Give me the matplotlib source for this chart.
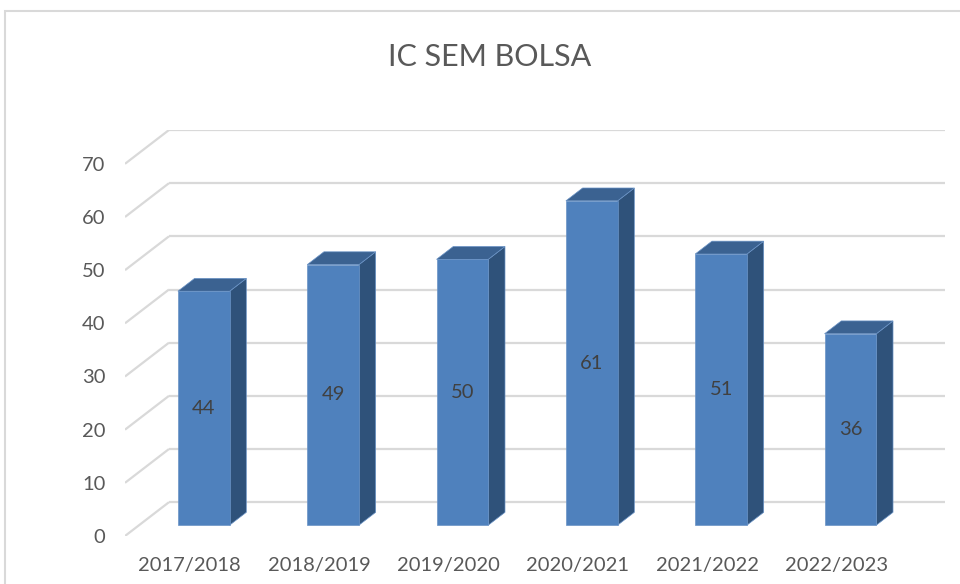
import matplotlib.pyplot as plt
from matplotlib.patches import Polygon, Rectangle

plt.rcParams['font.family'] = ['Lato', 'DejaVu Sans']

anos = ['2017/2018', '2018/2019', '2019/2020', '2020/2021', '2021/2022', '2022/2023']
valores = [44, 49, 50, 61, 51, 36]
yticks = [0, 10, 20, 30, 40, 50, 60, 70]

# "3D" look: depth shift in data units (category units, value units)
DX = 0.34
DY = 6.36
largura = 0.40
d0, d1 = 0.32, 0.70

frente = '#4F81BD'
topo = '#3B6291'
lado = '#2F527A'
grade = '#D9D9D9'
texto = '#595959'


def proj(x, v, d):
    return (x + d * DX, v + d * DY)


fig = plt.figure(figsize=(9.6, 5.84), dpi=100)
ax = fig.add_axes([125 / 960, 48 / 584, 820 / 960, 406 / 584])
ax.set_xlim(-0.5, 5.5 + DX)
ax.set_ylim(0, 70 + DY)

# grade: parede do fundo + linhas diagonais do lado esquerdo
xmin, xmax = -0.5, len(anos) - 0.5
for v in yticks:
    ax.plot(*zip(proj(xmin, v, 0), proj(xmin, v, 1)), color=grade, lw=1.6, zorder=1,
            solid_capstyle='butt')
    ax.plot(*zip(proj(xmin, v, 1), proj(xmax, v, 1)), color=grade, lw=1.6, zorder=1,
            solid_capstyle='butt')

for i, v in enumerate(valores):
    x0, x1 = i - largura / 2, i + largura / 2
    face = [proj(x0, 0, d0), proj(x1, 0, d0), proj(x1, v, d0), proj(x0, v, d0)]
    top = [proj(x0, v, d0), proj(x1, v, d0), proj(x1, v, d1), proj(x0, v, d1)]
    side = [proj(x1, 0, d0), proj(x1, 0, d1), proj(x1, v, d1), proj(x1, v, d0)]
    for pts, c in [(side, lado), (top, topo), (face, frente)]:
        ax.add_patch(Polygon(pts, closed=True, facecolor=c, edgecolor='#6A93C6',
                             lw=0.5, zorder=3))
    cx, cy = proj(i, v / 2, d0)
    ax.text(cx, cy, str(v), ha='center', va='center', fontsize=14.5, color='#404040',
            zorder=4)

ax.set_xticks(range(len(anos)))
ax.set_xticklabels(anos)
ax.set_yticks(yticks)
ax.tick_params(length=0, labelsize=14.5, labelcolor=texto)
ax.tick_params(axis='x', pad=15)
ax.tick_params(axis='y', pad=14)
for s in ax.spines.values():
    s.set_visible(False)
ax.patch.set_alpha(0)

fig.text(490 / 960, 1 - 57 / 584, 'IC SEM BOLSA', ha='center', va='center',
         fontsize=22, color=texto)

# borda do gráfico (cortada à direita e embaixo)
fig.patches.append(Rectangle((5 / 960, -0.1), 1.1, 1 - 11 / 584 + 0.1,
                             transform=fig.transFigure, fill=False,
                             edgecolor='#D9D9D9', lw=1.5))

fig.savefig('out.png', dpi=100)
